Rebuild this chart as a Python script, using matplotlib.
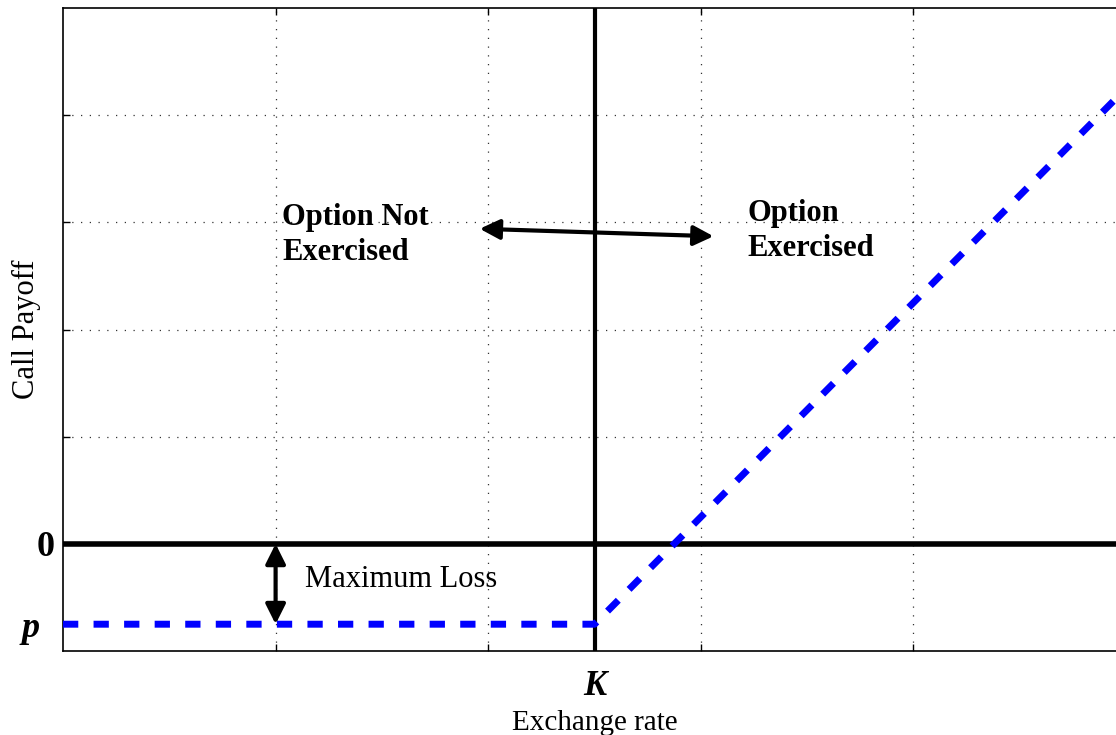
import numpy as np
import matplotlib.pyplot as plt

plt.rcParams['font.family'] = ['Liberation Serif', 'DejaVu Serif']

# Payoff data
strike = 2.5
premium = -0.75
payoff_x = [0, strike, 5]
payoff_y = [premium, premium, premium + 2 * (5 - strike)]

# Axis ticks and labels
x_ticks = [1, 2, 3, 4]
y_ticks = [1, 2, 3, 4]
y_label_ticks = [premium, 0]
y_label_text = ['p', '0']
y_label_offset = [-0.11, -0.04]

# Annotation positions
loss_arrow_x = 1.0
split_arrow = [(1.96, 2.94), (3.06, 2.87)]

fig = plt.figure(figsize=(11.16, 7.35), dpi=100)
ax = fig.add_axes([63 / 1116, 84 / 735, 1063 / 1116, 643 / 735])

ax.set_xlim(0, 5)
ax.set_ylim(-1, 5)

ax.set_xticks(x_ticks)
ax.set_yticks(y_ticks)
ax.set_xticklabels([])
ax.set_yticklabels([])
ax.tick_params(direction='in', length=5, width=1, top=True, right=True)
ax.grid(True, linestyle=(0, (1, 6)), color='#333333', linewidth=0.9)
for s in ax.spines.values():
    s.set_linewidth(1.2)

# axes through zero and strike
ax.axhline(0, color='black', lw=4)
ax.axvline(strike, color='black', lw=3)

# call payoff
ax.plot(payoff_x, payoff_y, color='blue', lw=5, dashes=(2.2, 2.2), zorder=3)

# y tick style labels
for yv, lab, off in zip(y_label_ticks, y_label_text, y_label_offset):
    style = 'italic' if lab == 'p' else 'normal'
    ax.text(off, yv, lab, ha='right', va='center_baseline', fontsize=26, fontweight='bold',
            fontstyle=style, clip_on=False)

ax.text(strike, -1.33, 'K', ha='center', va='center', fontsize=25, fontweight='bold',
        fontstyle='italic', clip_on=False)
ax.set_xlabel('Exchange rate', fontsize=21, labelpad=39)
ax.set_ylabel('Call Payoff', fontsize=22, labelpad=12)

# arrows
astyle = '<|-|>,head_length=0.6,head_width=0.3'
ax.annotate('', xy=(loss_arrow_x, premium), xytext=(loss_arrow_x, 0),
            arrowprops=dict(arrowstyle=astyle, color='black', lw=3, mutation_scale=20,
                            shrinkA=0, shrinkB=0))
ax.annotate('', xy=split_arrow[0], xytext=split_arrow[1],
            arrowprops=dict(arrowstyle=astyle, color='black', lw=3, mutation_scale=20,
                            shrinkA=0, shrinkB=0))

ax.text(1.14, -0.33, 'Maximum Loss', fontsize=22, va='center', ha='left')
ax.text(1.03, 2.88, 'Option Not\nExercised', fontsize=22, fontweight='bold',
        va='center', ha='left', linespacing=1.3)
ax.text(3.22, 2.92, 'Option\nExercised', fontsize=22, fontweight='bold',
        va='center', ha='left', linespacing=1.3)

plt.savefig('out.png', dpi=100)
